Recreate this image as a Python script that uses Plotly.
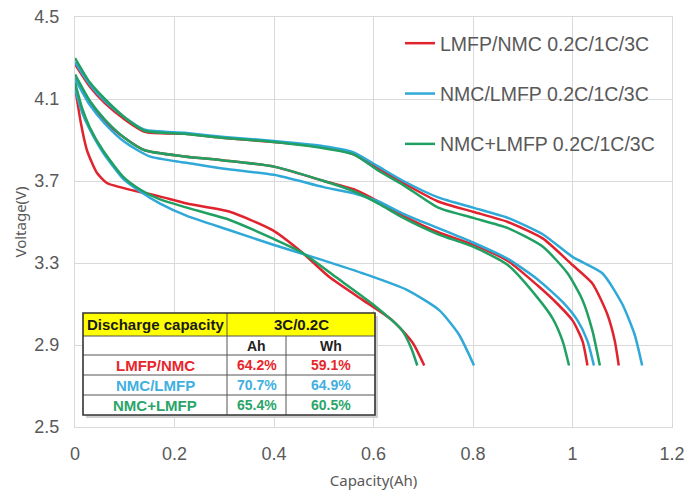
import plotly.graph_objects as go

# ---------------- data ----------------
series_names = ["LMFP/NMC 0.2C/1C/3C", "NMC/LMFP 0.2C/1C/3C", "NMC+LMFP 0.2C/1C/3C"]
series_colors = ["#e0232d", "#30a9d8", "#20a062"]

# LMFP/NMC
lmfp_nmc_02c_x = [0, 0.03, 0.06, 0.10, 0.14, 0.22, 0.30, 0.40, 0.50, 0.56, 0.61, 0.66, 0.73, 0.80, 0.87, 0.94, 1.00, 1.04, 1.07, 1.085, 1.093]
lmfp_nmc_02c_v = [4.27, 4.16, 4.08, 4.00, 3.94, 3.93, 3.91, 3.89, 3.865, 3.83, 3.76, 3.69, 3.60, 3.55, 3.50, 3.42, 3.29, 3.20, 3.05, 2.92, 2.80]
lmfp_nmc_1c_x = [0, 0.03, 0.06, 0.10, 0.14, 0.22, 0.30, 0.40, 0.50, 0.56, 0.61, 0.66, 0.73, 0.80, 0.87, 0.93, 0.97, 1.00, 1.02, 1.03]
lmfp_nmc_1c_v = [4.20, 4.08, 3.99, 3.91, 3.85, 3.82, 3.80, 3.77, 3.70, 3.66, 3.60, 3.53, 3.45, 3.39, 3.31, 3.19, 3.10, 3.02, 2.92, 2.80]
lmfp_nmc_3c_x = [0, 0.012, 0.024, 0.044, 0.064, 0.09, 0.124, 0.17, 0.225, 0.311, 0.397, 0.457, 0.512, 0.578, 0.638, 0.679, 0.702]
lmfp_nmc_3c_v = [4.16, 3.98, 3.85, 3.74, 3.69, 3.67, 3.65, 3.625, 3.59, 3.55, 3.46, 3.35, 3.23, 3.12, 3.02, 2.91, 2.80]

# NMC/LMFP
nmc_lmfp_02c_x = [0, 0.03, 0.06, 0.10, 0.14, 0.22, 0.30, 0.40, 0.50, 0.56, 0.61, 0.66, 0.73, 0.80, 0.87, 0.94, 1.00, 1.06, 1.10, 1.125, 1.14]
nmc_lmfp_02c_v = [4.28, 4.17, 4.09, 4.01, 3.95, 3.935, 3.915, 3.895, 3.87, 3.84, 3.77, 3.70, 3.62, 3.57, 3.52, 3.44, 3.33, 3.25, 3.10, 2.95, 2.80]
nmc_lmfp_1c_x = [0, 0.03, 0.06, 0.10, 0.15, 0.22, 0.30, 0.40, 0.50, 0.56, 0.61, 0.66, 0.73, 0.80, 0.87, 0.93, 0.98, 1.01, 1.03, 1.043]
nmc_lmfp_1c_v = [4.20, 4.07, 3.98, 3.89, 3.82, 3.79, 3.76, 3.73, 3.67, 3.64, 3.60, 3.54, 3.47, 3.40, 3.32, 3.22, 3.11, 3.02, 2.92, 2.80]
nmc_lmfp_3c_x = [0, 0.015, 0.03, 0.056, 0.097, 0.13, 0.171, 0.225, 0.311, 0.397, 0.477, 0.578, 0.666, 0.732, 0.772, 0.802]
nmc_lmfp_3c_v = [4.15, 4.03, 3.95, 3.84, 3.71, 3.65, 3.59, 3.53, 3.46, 3.39, 3.33, 3.25, 3.17, 3.07, 2.95, 2.80]

# NMC+LMFP
nmc_plus_02c_x = [0, 0.03, 0.06, 0.10, 0.14, 0.22, 0.30, 0.40, 0.50, 0.56, 0.61, 0.66, 0.73, 0.80, 0.87, 0.94, 0.99, 1.02, 1.04, 1.055]
nmc_plus_02c_v = [4.30, 4.18, 4.10, 4.01, 3.945, 3.93, 3.91, 3.89, 3.86, 3.83, 3.75, 3.68, 3.57, 3.52, 3.47, 3.38, 3.25, 3.12, 2.97, 2.80]
nmc_plus_1c_x = [0, 0.03, 0.06, 0.10, 0.14, 0.22, 0.30, 0.40, 0.50, 0.56, 0.61, 0.66, 0.73, 0.80, 0.87, 0.93, 0.96, 0.98, 0.993]
nmc_plus_1c_v = [4.22, 4.09, 4.00, 3.91, 3.85, 3.82, 3.80, 3.77, 3.70, 3.65, 3.59, 3.52, 3.44, 3.38, 3.29, 3.13, 3.03, 2.92, 2.80]
nmc_plus_3c_x = [0, 0.015, 0.03, 0.056, 0.097, 0.13, 0.171, 0.225, 0.311, 0.397, 0.457, 0.525, 0.598, 0.658, 0.675, 0.688]
nmc_plus_3c_v = [4.18, 4.05, 3.96, 3.85, 3.72, 3.66, 3.61, 3.57, 3.51, 3.42, 3.35, 3.23, 3.10, 2.97, 2.89, 2.80]

x_ticks = [0, 0.2, 0.4, 0.6, 0.8, 1, 1.2]
y_ticks = [2.5, 2.9, 3.3, 3.7, 4.1, 4.5]

# table
table_title = "Discharge capacity"
table_group = "3C/0.2C"
table_cols = ["Ah", "Wh"]
table_rows = ["LMFP/NMC", "NMC/LMFP", "NMC+LMFP"]
table_ah = ["64.2%", "70.7%", "65.4%"]
table_wh = ["59.1%", "64.9%", "60.5%"]
table_colors = ["#e8262c", "#3fb0e0", "#2aa56a"]

# ---------------- figure ----------------
# the page body margin is removed (post_script below), so the figure fills the window
W, H = 685, 491
# plot area in window pixels
PL, PR, PT, PB = 75, 672, 17, 427
ML, MR, MT, MB = PL, W - PR, PT, H - PB
PW, PH = PR - PL, PB - PT
FONT = "Liberation Sans, Arial, sans-serif"

curves = [
    [(lmfp_nmc_02c_x, lmfp_nmc_02c_v), (lmfp_nmc_1c_x, lmfp_nmc_1c_v), (lmfp_nmc_3c_x, lmfp_nmc_3c_v)],
    [(nmc_lmfp_02c_x, nmc_lmfp_02c_v), (nmc_lmfp_1c_x, nmc_lmfp_1c_v), (nmc_lmfp_3c_x, nmc_lmfp_3c_v)],
    [(nmc_plus_02c_x, nmc_plus_02c_v), (nmc_plus_1c_x, nmc_plus_1c_v), (nmc_plus_3c_x, nmc_plus_3c_v)],
]

fig = go.Figure()
for i, (name, color) in enumerate(zip(series_names, series_colors)):
    for j, (xs, vs) in enumerate(curves[i]):
        fig.add_trace(go.Scatter(
            x=xs, y=vs, mode="lines", name=name, legendgroup=name,
            showlegend=(j == 0),
            line=dict(color=color, width=2.5, shape="spline", smoothing=0.6),
        ))

def px2x(p):
    return (p - PL) / PW

def py2y(p):
    return 1 - (p - PT) / PH

shapes = []
annotations = []
# table geometry in window pixels
tx = [83, 227, 286, 375]
ty = [313, 336, 355, 375, 395, 415]

# soft shadow
shapes.append(dict(type="rect", xref="paper", yref="paper",
                   x0=px2x(tx[0] + 3), x1=px2x(tx[3] + 3), y0=py2y(ty[5] + 3), y1=py2y(ty[0] + 3),
                   fillcolor="#d0d0d0", line=dict(width=0), layer="above"))
# header yellow fill
shapes.append(dict(type="rect", xref="paper", yref="paper",
                   x0=px2x(tx[0]), x1=px2x(tx[3]), y0=py2y(ty[1]), y1=py2y(ty[0]),
                   fillcolor="#ffff00", line=dict(width=0), layer="above"))
# white body
shapes.append(dict(type="rect", xref="paper", yref="paper",
                   x0=px2x(tx[0]), x1=px2x(tx[3]), y0=py2y(ty[5]), y1=py2y(ty[1]),
                   fillcolor="white", line=dict(width=0), layer="above"))
# inner horizontal lines
for k in range(1, 5):
    shapes.append(dict(type="line", xref="paper", yref="paper",
                       x0=px2x(tx[0]), x1=px2x(tx[3]), y0=py2y(ty[k]), y1=py2y(ty[k]),
                       line=dict(color="#555555", width=1), layer="above"))
# vertical lines
shapes.append(dict(type="line", xref="paper", yref="paper",
                   x0=px2x(tx[1]), x1=px2x(tx[1]), y0=py2y(ty[5]), y1=py2y(ty[0]),
                   line=dict(color="#555555", width=1), layer="above"))
shapes.append(dict(type="line", xref="paper", yref="paper",
                   x0=px2x(tx[2]), x1=px2x(tx[2]), y0=py2y(ty[5]), y1=py2y(ty[1]),
                   line=dict(color="#555555", width=1), layer="above"))
# outer border
shapes.append(dict(type="rect", xref="paper", yref="paper",
                   x0=px2x(tx[0]), x1=px2x(tx[3]), y0=py2y(ty[5]), y1=py2y(ty[0]),
                   fillcolor="rgba(0,0,0,0)", line=dict(color="#333333", width=1.6), layer="above"))

def cell_text(text, c0, c1, r, color, size=14):
    annotations.append(dict(
        xref="paper", yref="paper",
        x=px2x((tx[c0] + tx[c1]) / 2), y=py2y((ty[r] + ty[r + 1]) / 2),
        text="<b>%s</b>" % text, showarrow=False,
        font=dict(family=FONT, size=size, color=color),
        xanchor="center", yanchor="middle"))

cell_text(table_title, 0, 1, 0, "#1a1a1a", 15)
cell_text(table_group, 1, 3, 0, "#1a1a1a", 15)
cell_text(table_cols[0], 1, 2, 1, "#222222", 14)
cell_text(table_cols[1], 2, 3, 1, "#222222", 14)
for r in range(3):
    cell_text(table_rows[r], 0, 1, r + 2, table_colors[r], 15)
    cell_text(table_ah[r], 1, 2, r + 2, table_colors[r], 14)
    cell_text(table_wh[r], 2, 3, r + 2, table_colors[r], 14)

fig.update_layout(
    width=W, height=H,
    margin=dict(l=ML, r=MR, t=MT, b=MB, autoexpand=False),
    paper_bgcolor="white", plot_bgcolor="white",
    font=dict(family=FONT, size=18, color="#595959"),
    showlegend=True,
    legend=dict(x=px2x(400), y=py2y(24), xanchor="left", yanchor="top",
                bgcolor="rgba(255,255,255,0)", font=dict(family=FONT, size=19.5, color="#595959"),
                traceorder="grouped", tracegroupgap=22),
    shapes=shapes, annotations=annotations,
)
fig.update_xaxes(range=[0, 1.2], tickvals=x_ticks, ticktext=[str(t) for t in x_ticks],
                 showgrid=True, gridcolor="#d9d9d9", gridwidth=1, automargin=False,
                 zeroline=False, showline=True, linecolor="#d9d9d9", mirror=True,
                 ticks="", ticklabelstandoff=10, ticklabeloverflow="allow",
                 tickfont=dict(size=18, color="#595959"),
                 title=dict(text="Capacity(Ah)", font=dict(family="Noto Sans, sans-serif", size=15, color="#595959"), standoff=12))
fig.update_yaxes(range=[2.5, 4.5], tickvals=y_ticks, ticktext=["%.1f" % t for t in y_ticks],
                 showgrid=True, gridcolor="#d9d9d9", gridwidth=1, automargin=False,
                 zeroline=False, showline=True, linecolor="#d9d9d9", mirror=True,
                 ticks="", ticklabelstandoff=11, ticklabeloverflow="allow",
                 tickfont=dict(size=18, color="#595959"),
                 title=dict(text="Voltage(V)", font=dict(family="Noto Sans, sans-serif", size=15, color="#595959"), standoff=4))

fig.write_html("out.html",
               config={"displayModeBar": False},
               post_script="document.body.style.margin='0';document.body.style.overflow='hidden';")
